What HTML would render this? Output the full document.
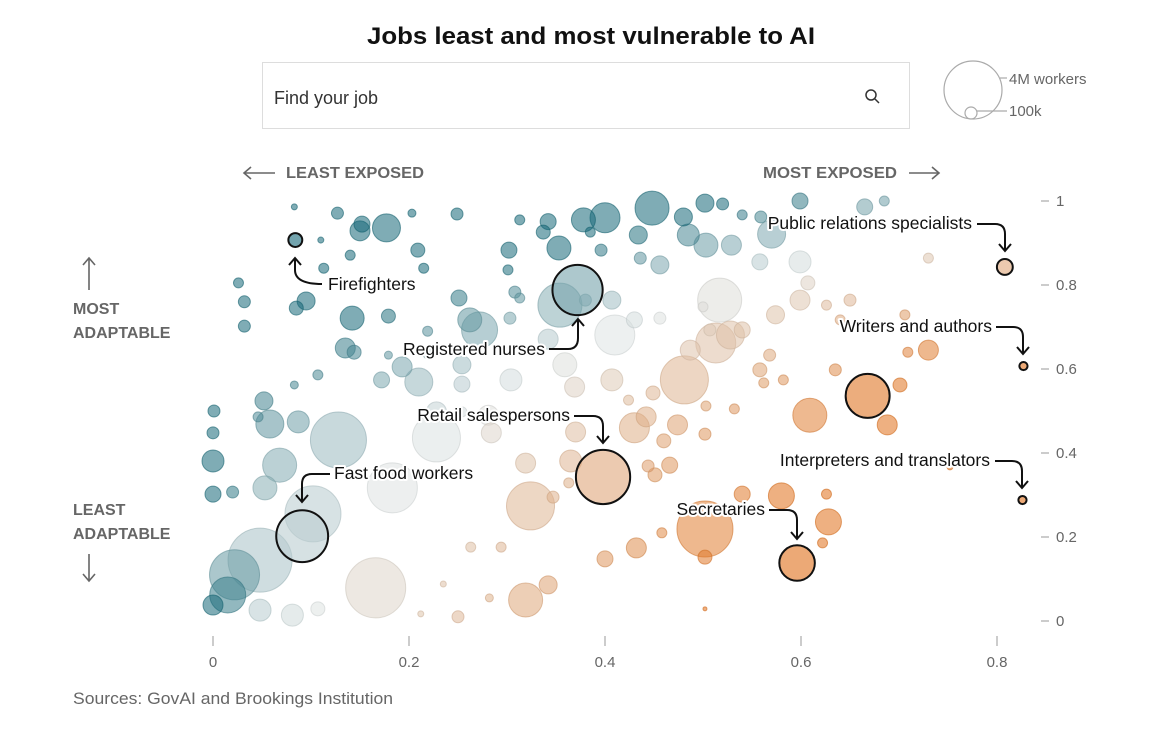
<!DOCTYPE html>
<html><head><meta charset="utf-8"><style>
body{margin:0;background:#fff;width:1174px;height:741px;overflow:hidden;font-family:"Liberation Sans",sans-serif}
svg{position:absolute;left:0;top:0}
</style></head><body>
<svg id="chart" width="1174" height="741">
<text x="591" y="44" text-anchor="middle" font-size="24" font-weight="bold" fill="#111" textLength="448" lengthAdjust="spacingAndGlyphs">Jobs least and most vulnerable to AI</text>
<g>
<rect x="262.5" y="62.5" width="647" height="66" fill="#fff" stroke="#ddd"/>
<text x="274" y="104" font-size="18" fill="#333">Find your job</text>
<g stroke="#333" stroke-width="1.5" fill="none"><circle cx="871" cy="95" r="5"/><line x1="875" y1="99" x2="879" y2="103"/></g>
</g>
<g fill="none" stroke="#aaa" stroke-width="1.2">
<circle cx="973" cy="90" r="29"/><circle cx="971" cy="113" r="6"/>
<line x1="1000" y1="78" x2="1007" y2="78"/><line x1="977" y1="111" x2="1007" y2="111"/>
<text x="1009" y="84" font-size="15" fill="#666" stroke="none">4M workers</text>
<text x="1009" y="116" font-size="15" fill="#666" stroke="none">100k</text>
</g>
<g font-size="16" font-weight="bold" fill="#666">
<text x="286" y="178" textLength="138" lengthAdjust="spacingAndGlyphs">LEAST EXPOSED</text>
<text x="763" y="178" textLength="134" lengthAdjust="spacingAndGlyphs">MOST EXPOSED</text>
<text x="73" y="314">MOST</text>
<text x="73" y="338">ADAPTABLE</text>
<text x="73" y="515">LEAST</text>
<text x="73" y="539">ADAPTABLE</text>
</g>
<g stroke="#666" stroke-width="1.6" fill="none">
<path d="M275 173H244M251 167L244 173L251 179"/>
<path d="M909 173H939M932 167L939 173L932 179"/>
<path d="M89 290V258M83 265L89 258L95 265"/>
<path d="M89 554V581M83 574L89 581L95 574"/>
</g>
<g id="axes"></g>
<g id="bubbles"></g>
<g id="annos"></g>
<text x="73" y="704" font-size="17" fill="#666" textLength="320" lengthAdjust="spacingAndGlyphs">Sources: GovAI and Brookings Institution</text>
</svg>
<script>
// exposure (x), adaptability (y), workers in thousands (w)
const xs=[.448,.502,.520,.540,.599,.665,.685,.480,.400,.378,.342,.313,.249,.203,.127,.177,.150,.152,.140,.113,.083,.026,.032,.032,.095,.085,.110,.209,.215,.302,.301,.337,.353,.434,.485,.503,.529,.570,.558,.599,.456,.436,.396,.308,.251,.262,.142,.179,.144,.135,.219,.220,.179,.193,.172,.107,.083,.052,.046,.058,.087,.068,.128,.053,.001,0,0,0,.020,.048,.022,.015,0,.048,.081,.107,.166,.102,.183,.228,.303,.313,.342,.359,.369,.380,.407,.410,.430,.456,.481,.487,.507,.500,.517,.528,.513,.540,.574,.599,.607,.626,.650,.640,.568,.558,.562,.582,.635,.706,.730,.709,.701,.688,.609,.532,.503,.424,.407,.449,.442,.430,.474,.460,.502,.444,.451,.466,.319,.324,.347,.363,.365,.370,.281,.284,.228,.254,.304,.254,.254,.210,.432,.458,.400,.319,.342,.540,.580,.628,.626,.502,.502,.622,.250,.282,.263,.294,.235,.212,.752,.502,.730,.559,.385,.354,.272];
const ys=[.983,.995,.993,.967,1.0,.986,1.0,.962,.960,.955,.951,.955,.969,.971,.971,.936,.929,.945,.871,.840,.986,.805,.760,.702,.762,.745,.907,.883,.840,.883,.836,.926,.888,.919,.919,.895,.895,.921,.855,.855,.848,.864,.883,.783,.769,.717,.721,.726,.640,.650,.690,.638,.633,.605,.574,.586,.562,.524,.486,.469,.474,.371,.431,.317,.500,.448,.381,.302,.307,.145,.110,.062,.038,.026,.014,.029,.079,.255,.317,.436,.721,.769,.671,.610,.557,.764,.764,.681,.717,.721,.574,.645,.693,.748,.764,.681,.662,.693,.729,.764,.805,.752,.764,.717,.633,.598,.567,.574,.598,.729,.645,.640,.562,.467,.490,.505,.512,.526,.574,.543,.486,.460,.467,.429,.445,.369,.348,.371,.376,.274,.295,.329,.381,.450,.490,.448,.498,.498,.574,.564,.610,.569,.174,.210,.148,.050,.086,.302,.298,.236,.302,.219,.152,.186,.010,.055,.176,.176,.088,.017,.367,.029,.864,.962,.926,.752,.693];
const ws=[1376,386,171,119,305,305,119,386,1071,685,305,119,171,76,171,933,476,305,119,119,43,119,171,171,386,233,43,233,119,305,119,233,685,386,576,685,476,933,305,576,386,171,171,171,305,685,685,233,233,476,119,171,76,476,305,119,76,386,119,933,576,1376,3732,685,171,171,576,305,171,4874,2975,1542,476,576,576,233,4284,3732,2975,2742,171,119,476,685,476,171,386,1904,305,171,2742,476,171,119,2304,933,1904,305,386,476,233,119,171,119,171,233,119,119,171,119,476,119,233,476,1376,119,119,119,576,233,476,1071,476,233,171,171,233,305,476,2742,171,119,576,476,476,476,476,119,576,305,386,933,476,119,305,1376,386,305,804,804,119,3732,233,119,171,76,119,119,43,43,43,19,119,171,119,2304,1542];
// highlighted jobs
const hlNames=["Firefighters","Registered nurses","Retail salespersons","Fast food workers","Secretaries","Public relations specialists","Writers and authors","Interpreters and translators",""];
const hlX=[.084,.372,.398,.091,.596,.808,.827,.826,.668];
const hlY=[.907,.788,.343,.202,.138,.843,.607,.288,.536];
const hlW=[230,3000,3500,3200,1500,300,80,80,2300];
const xTicks=[0,0.2,0.4,0.6,0.8];
const yTicks=[0,0.2,0.4,0.6,0.8,1];

const NS="http://www.w3.org/2000/svg";
const X=v=>213+v*980, Y=v=>621-v*420, R=w=>29*Math.sqrt(w/4000);
function mix(a,b,t){return a.map((c,i)=>Math.round(c+(b[i]-c)*t));}
function color(x,y){
  let d=x-0.1-0.2*y-0.55*y*y*y-0.3*Math.max(0,0.03-x)/0.03;
  const g=[222,227,227],teal=[22,104,120],or=[224,112,26];
  return d<0?mix(g,teal,Math.min(1,-d/0.3)):mix(g,or,Math.min(1,d/0.4));
}
function mk(tag,attrs,parent){const e=document.createElementNS(NS,tag);for(const k in attrs)e.setAttribute(k,attrs[k]);parent.appendChild(e);return e;}
const axes=document.getElementById('axes');
xTicks.forEach(t=>{
  const l=mk('line',{x1:X(t),x2:X(t),y1:636,y2:646,stroke:'#999'},axes);
  
  
  const tx=mk('text',{x:X(t),y:667,'text-anchor':'middle','font-size':15,fill:'#666'},axes);
  tx.textContent=String(t);
  
  
});
yTicks.forEach(t=>{
  const l=mk('line',{x1:1041,x2:1049,y1:Y(t),y2:Y(t),stroke:'#999'},axes);
  
  
  const tx=mk('text',{x:1056,y:Y(t)+5,'font-size':15,fill:'#666'},axes);
  tx.textContent=String(t);
  
  
});
const bg=document.getElementById('bubbles');
const order=xs.map((_,i)=>i).sort((a,b)=>ws[b]-ws[a]);
order.forEach(i=>{
  const c=color(xs[i],ys[i]);
  const c2=mix(c,[0,0,0],0.08);
  const e=mk('circle',{cx:X(xs[i]),cy:Y(ys[i]),r:R(ws[i]),fill:`rgb(${c})`,'fill-opacity':0.55,stroke:`rgb(${c2})`,'stroke-opacity':0.6,'stroke-width':1},bg);
  
  
});
hlX.forEach((x,i)=>{
  const c=color(x,hlY[i]);
  const e=mk('circle',{cx:X(x),cy:Y(hlY[i]),r:Math.max(4,R(hlW[i])),fill:`rgb(${c})`,'fill-opacity':0.6,stroke:'#111','stroke-width':2},bg);
  
  
});
const an=document.getElementById('annos');
const annos=[
 [328,290,'start',"M322 284Q295 284 295 270V259M289 265L295 258L301 265"],
 [545,355,'end',"M549 349H568Q578 349 578 338V320M572 326L578 319L584 326"],
 [570,421,'end',"M574 416H593Q603 416 603 426V442M597 436L603 443L609 436"],
 [334,479,'start',"M330 474H312Q302 474 302 484V501M296 495L302 502L308 495"],
 [765,515,'end',"M769 510H787Q797 510 797 520V538M791 532L797 539L803 532"],
 [972,229,'end',"M977 224H995Q1005 224 1005 234V250M999 244L1005 251L1011 244"],
 [992,332,'end',"M996 327H1013Q1023 327 1023 337V353M1017 347L1023 354L1029 347"],
 [990,466,'end',"M995 461H1012Q1022 461 1022 471V487M1016 481L1022 488L1028 481"]
];
annos.forEach((a,i)=>{
  const p=mk('path',{d:a[3],fill:'none',stroke:'#111','stroke-width':2},an);
  
  
  const t=mk('text',{x:a[0],y:a[1],'text-anchor':a[2],'font-size':17.5,fill:'#111',stroke:'#fff','stroke-width':4,'paint-order':'stroke','stroke-linejoin':'round'},an);
  t.textContent=hlNames[i];
  
  
});
</script>
</body></html>
